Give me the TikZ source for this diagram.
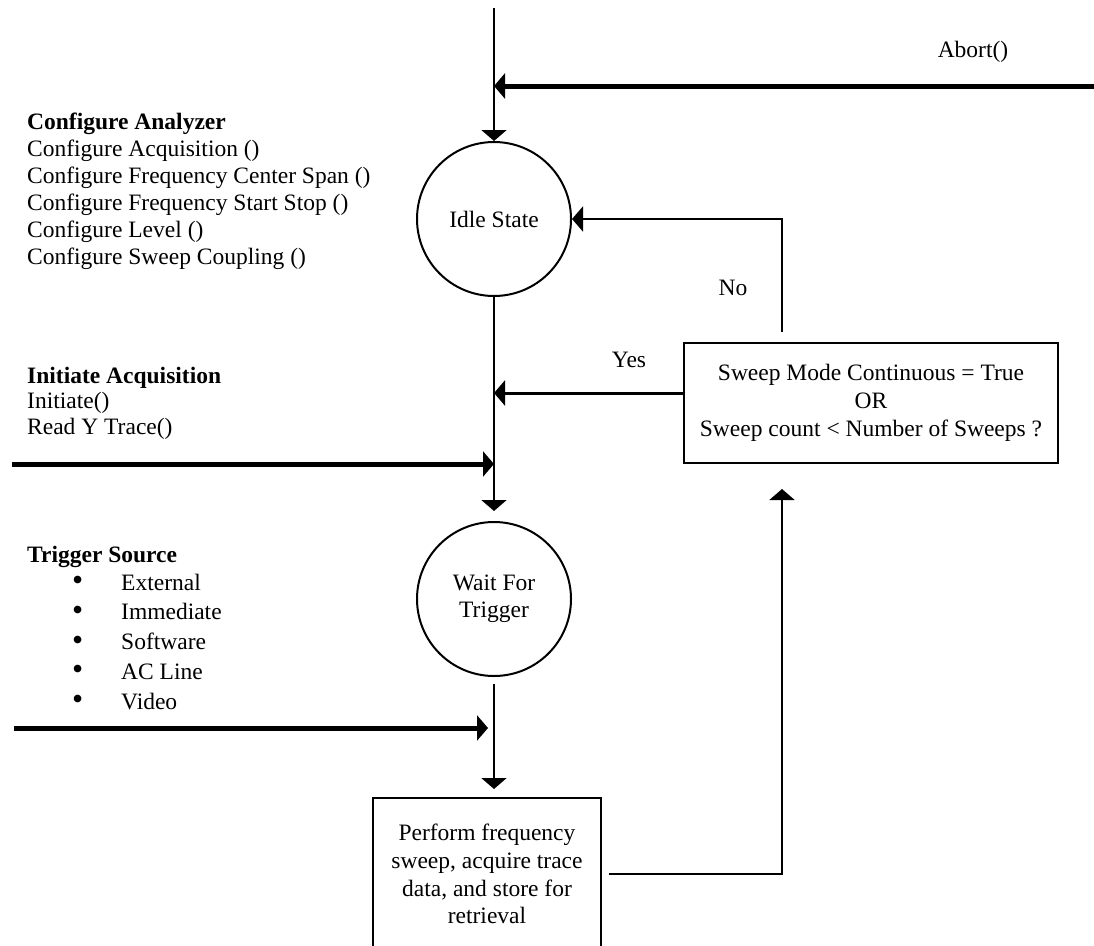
\documentclass[tikz,border=0pt]{standalone}
\usepackage{fontspec}
\setmainfont{Liberation Serif}
\usetikzlibrary{arrows.meta}
\newcommand{\bul}{\makebox[49pt][l]{\raisebox{-0.5pt}{\scalebox{1.35}{\textbullet}}}}
\tikzset{
  statecirc/.style={draw, circle, line width=2pt, minimum size=154pt, inner sep=0pt, align=center},
  procbox/.style={draw, rectangle, line width=2pt, inner sep=0pt, align=center, font=\fontsize{23.5}{27.75}\selectfont},
  txt/.style={inner sep=0pt, align=left, anchor=base west},
  flow/.style={line width=2pt, -{Triangle[length=11pt,width=25pt]}},
  bigflow/.style={line width=5pt, -{Triangle[length=11pt,width=25pt]}},
}
\begin{document}
\begin{tikzpicture}[x=1pt, y=-1pt, font=\fontsize{23.5}{27}\selectfont]
\useasboundingbox (0,0) rectangle (1094,945);

\node[statecirc] (idle) at (494,219) {Idle State};
\node[statecirc] (wait) at (494,599) {Wait For\\Trigger};
\node[procbox, minimum width=374pt, minimum height=120pt] (cond) at (871,403) {Sweep Mode Continuous = True\\OR\\Sweep count < Number of Sweeps ?};
\node[procbox, minimum width=228pt, minimum height=152pt] (sweep) at (487,874) {Perform frequency\\sweep, acquire trace\\data, and store for\\retrieval};

% multi-line text: placed by the baseline of the last line
\node[txt] (cfg) at (27,264) {\textbf{Configure Analyzer}\\Configure Acquisition ()\\Configure Frequency Center Span ()\\Configure Frequency Start Stop ()\\Configure Level ()\\Configure Sweep Coupling ()};
\node[txt, font=\fontsize{23.5}{25.5}\selectfont] (init) at (27,434) {\textbf{Initiate Acquisition}\\Initiate()\\Read Y Trace()};
\node[txt] (trig) at (27,562) {\textbf{Trigger Source}};
\node[txt, font=\fontsize{23.5}{29.75}\selectfont] (triglist) at (72,709) {\bul External\\\bul Immediate\\\bul Software\\\bul AC Line\\\bul Video};

\node (abortlbl) at (973,52) {Abort()};
\node (yeslbl) at (629,360) {Yes};
\node (nolbl) at (733,288) {No};

\coordinate (entry) at (494,8);
\coordinate (abortin) at (1094,86);
\coordinate (abortjoin) at (494,86);
\coordinate (initin) at (12,464);
\coordinate (initjoin) at (494,464);
\coordinate (trigin) at (14,728);
\coordinate (trigjoin) at (488,728);
\coordinate (backup) at (782,489);

\draw[flow] (entry) -- (idle);
\draw[bigflow] (abortin) -- (abortjoin);
\draw[flow, shorten >=10pt] (idle) -- (wait);
\draw[flow, line width=3pt] ([yshift=10pt]cond.west) -- ([yshift=10pt]cond.west -| idle.south);
\draw[flow] ([xshift=-89pt,yshift=10pt]cond.north) |- (idle);
\draw[bigflow] (initin) -- (initjoin);
\draw[bigflow] (trigin) -- (trigjoin);
\draw[flow, shorten <=7pt, shorten >=8pt] (wait.south) -- (wait.south |- sweep.north);
\draw[flow] ([xshift=7pt]sweep.east) -| (backup);
\end{tikzpicture}
\end{document}
